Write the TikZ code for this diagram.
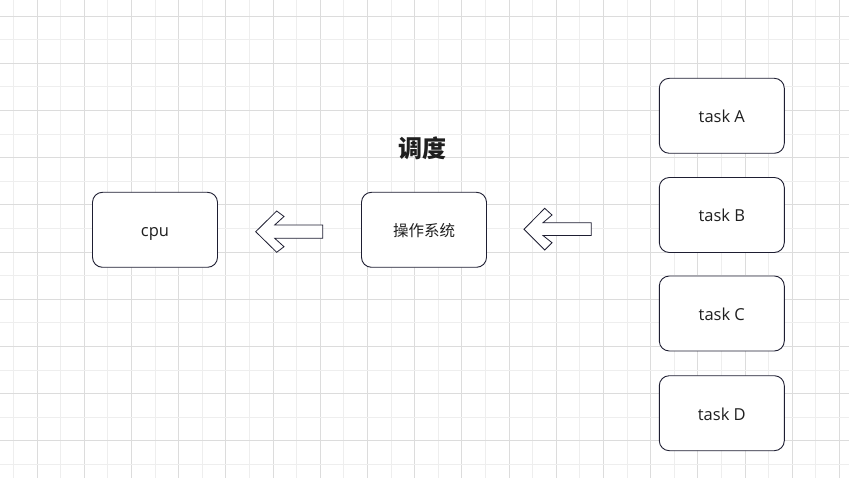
\documentclass[tikz,border=0pt]{standalone}
\usepackage{fontspec}
\setmainfont{Open Sans}
\newfontfamily\cjk{Noto Sans CJK SC}
\definecolor{gridA}{HTML}{DCDCDC}
\definecolor{gridB}{HTML}{EEEEEE}
\definecolor{edge}{HTML}{1E1E32}
\definecolor{txt}{HTML}{1F1F1F}
\tikzset{
  box/.style={draw=edge, line width=0.9pt, fill=white, rounded corners=10pt,
    minimum width=125pt, minimum height=75pt, inner sep=0pt, text=txt,
    text height=14pt, text depth=0pt,
    font=\fontsize{16.5}{18}\selectfont},
  blockarrow/.style={draw=edge, line width=0.8pt, fill=white, line join=miter},
}
\begin{document}
\begin{tikzpicture}[x=1pt,y=-1pt]
\useasboundingbox (0,0) rectangle (849,478);
\fill[white] (0,0) rectangle (849,478);
% grid
\foreach \k in {0,...,35}{
  \pgfmathsetmacro{\xx}{13.3+23.6*\k}
  \pgfmathtruncatemacro{\odd}{mod(\k,2)}
  \ifnum\odd=1 \draw[gridA,line width=0.8pt] (\xx,0) -- (\xx,478);
  \else \draw[gridB,line width=0.8pt] (\xx,0) -- (\xx,478); \fi
}
\foreach \j in {0,...,19}{
  \pgfmathsetmacro{\yy}{16+23.6*\j}
  \pgfmathtruncatemacro{\odd}{mod(\j,2)}
  \ifnum\odd=0 \draw[gridA,line width=0.8pt] (0,\yy) -- (849,\yy);
  \else \draw[gridB,line width=0.8pt] (0,\yy) -- (849,\yy); \fi
}
% boxes
\node[box] (cpu) at (155,229.8) {cpu};
\node[box] (os) at (424,229.8) {\cjk\fontsize{15.5}{18}\selectfont 操作系统};
\node[box] (ta) at (721.8,115.8) {task A};
\node[box] (tb) at (721.8,215) {task B};
\node[box] (tc) at (721.8,313.5) {task C};
\node[box] (td) at (721.8,413.2) {task D};
% title
\node[text=txt, inner sep=0pt] (title) at (422.5,148) {\cjk\bfseries\fontsize{24}{28}\selectfont 调度};
% block arrows
\draw[blockarrow] (255.7,231.7) -- (276.7,211) -- (284,216.5) -- (274.7,225) -- (322.7,225)
  -- (322.7,238.3) -- (274.7,238.3) -- (284,246.7) -- (276.7,252.3) -- cycle;
\draw[blockarrow] (524,229.3) -- (544.7,208.3) -- (552,215) -- (543,222.7) -- (591.3,222.7)
  -- (591.3,235.5) -- (543,235.5) -- (552,242.7) -- (544.7,250) -- cycle;
\end{tikzpicture}
\end{document}
